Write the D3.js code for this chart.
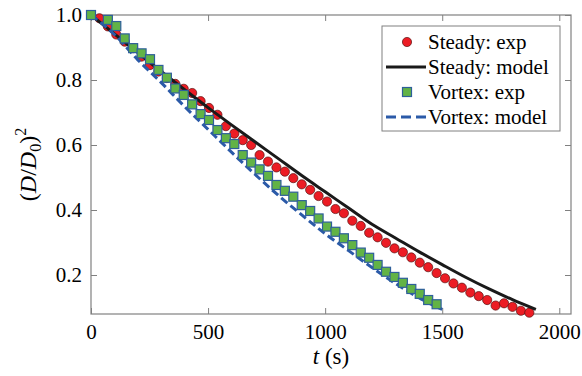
<!DOCTYPE html>
<html>
<head>
<meta charset="utf-8">
<script src="https://cdn.jsdelivr.net/npm/d3@7"></script>
<style>
  body { margin: 0; background: #fff; }
</style>
</head>
<body>
<svg id="chart" width="582" height="376" font-family="'Liberation Serif', 'Times New Roman', serif"></svg>
<script>
// steady droplet, experiment
const steadyExpT = [0, 36, 72, 108, 144, 180, 216, 252, 288, 324, 360, 396, 432, 468, 504, 540, 576, 612, 648, 684,
  720, 756, 792, 828, 864, 900, 936, 972, 1008, 1044, 1080, 1116, 1152, 1188, 1224, 1260, 1296, 1332, 1368, 1404,
  1440, 1476, 1512, 1548, 1584, 1620, 1656, 1692, 1728, 1764, 1800, 1836, 1872];
const steadyExpY = [1.0, 0.99, 0.965, 0.94, 0.918, 0.898, 0.872, 0.846, 0.826, 0.806, 0.788, 0.773, 0.760, 0.735,
  0.714, 0.693, 0.658, 0.635, 0.615, 0.600, 0.569, 0.549, 0.531, 0.518, 0.498, 0.479, 0.462, 0.443, 0.426, 0.403,
  0.390, 0.367, 0.351, 0.330, 0.316, 0.299, 0.282, 0.270, 0.254, 0.238, 0.224, 0.206, 0.190, 0.174, 0.161, 0.146,
  0.135, 0.123, 0.106, 0.113, 0.102, 0.090, 0.084];

// steady droplet, model
const steadyModelT = [0, 100, 200, 300, 400, 500, 600, 700, 800, 900, 1000, 1100, 1200, 1300, 1400, 1500, 1600, 1700, 1800, 1900];
const steadyModelY = [1.0, 0.942, 0.884, 0.826, 0.770, 0.715, 0.662, 0.610, 0.558, 0.506, 0.456, 0.406, 0.356,
  0.314, 0.272, 0.232, 0.193, 0.157, 0.124, 0.094];

// vortex droplet, experiment
const vortexExpT = [0, 72, 108, 144, 180, 216, 252, 288, 324, 360, 396, 432, 468, 504, 540, 576, 612, 648, 684, 720,
  756, 792, 828, 864, 900, 936, 972, 1008, 1044, 1080, 1116, 1152, 1188, 1224, 1260, 1296, 1332, 1368, 1404, 1440, 1476];
const vortexExpY = [1.0, 0.985, 0.966, 0.928, 0.898, 0.882, 0.864, 0.831, 0.807, 0.774, 0.754, 0.725, 0.695, 0.677,
  0.646, 0.621, 0.603, 0.569, 0.546, 0.525, 0.505, 0.477, 0.459, 0.441, 0.415, 0.397, 0.374, 0.349, 0.333, 0.313,
  0.292, 0.269, 0.253, 0.231, 0.210, 0.194, 0.176, 0.157, 0.142, 0.123, 0.110];

// vortex droplet, model
const vortexModelT = [0, 100, 200, 300, 400, 500, 600, 700, 800, 900, 1000, 1100, 1200, 1300, 1400, 1500];
const vortexModelY = [1.0, 0.940, 0.862, 0.792, 0.718, 0.648, 0.578, 0.510, 0.445, 0.385, 0.327, 0.275, 0.223,
  0.174, 0.130, 0.094];

const xTicks = [0, 500, 1000, 1500, 2000];
const yTicks = [0.2, 0.4, 0.6, 0.8, 1.0];
const legendLabels = ["Steady: exp", "Steady: model", "Vortex: exp", "Vortex: model"];

const serif = "Liberation Serif";
const svg = d3.select("#chart");
const margin = { top: 15, right: 11, bottom: 62, left: 91 };
const width = +svg.attr("width");
const height = +svg.attr("height");

const x = d3.scaleLinear().domain([0, 2050]).range([margin.left, width - margin.right]);
const y = d3.scaleLinear().domain([0.08, 1.0]).range([height - margin.bottom, margin.top]);

const zip = (ts, ys) => ts.map((t, i) => ({ t, v: ys[i] }));
const steadyExp = zip(steadyExpT, steadyExpY);
const steadyModel = zip(steadyModelT, steadyModelY);
const vortexExp = zip(vortexExpT, vortexExpY);
const vortexModel = zip(vortexModelT, vortexModelY);

const axisColor = "#808080";
const red = "#ec1c24";
const green = "#62b346";
const blue = "#2b5aa8";

// axes with inward ticks on all four sides
function styleAxis(g) {
  g.attr("font-family", serif);
  g.select(".domain").remove();
  g.selectAll(".tick line").attr("stroke", axisColor);
  g.selectAll(".tick text").attr("fill", "#000").attr("font-size", 21).attr("font-family", serif);
}

svg.append("g")
  .attr("transform", `translate(0,${height - margin.bottom})`)
  .call(d3.axisBottom(x).tickValues(xTicks).tickFormat(d3.format("d")).tickSizeInner(-6).tickPadding(10))
  .call(styleAxis);

svg.append("g")
  .attr("transform", `translate(0,${margin.top})`)
  .call(d3.axisTop(x).tickValues(xTicks).tickFormat("").tickSizeInner(-6))
  .call(styleAxis);

svg.append("g")
  .attr("transform", `translate(${margin.left},0)`)
  .call(d3.axisLeft(y).tickValues(yTicks).tickFormat(d3.format(".1f")).tickSizeInner(-6).tickPadding(9))
  .call(styleAxis);

svg.append("g")
  .attr("transform", `translate(${width - margin.right},0)`)
  .call(d3.axisRight(y).tickValues(yTicks).tickFormat("").tickSizeInner(-6))
  .call(styleAxis);

// plot frame
svg.append("rect")
  .attr("x", margin.left)
  .attr("y", margin.top)
  .attr("width", width - margin.left - margin.right)
  .attr("height", height - margin.top - margin.bottom)
  .attr("fill", "none")
  .attr("stroke", axisColor)
  .attr("stroke-width", 1.2);

const line = d3.line()
  .x(d => x(d.t))
  .y(d => y(d.v))
  .curve(d3.curveMonotoneX);

// steady exp circles
svg.append("g")
  .selectAll("circle")
  .data(steadyExp)
  .join("circle")
  .attr("cx", d => x(d.t))
  .attr("cy", d => y(d.v))
  .attr("r", 4.6)
  .attr("fill", red)
  .attr("stroke", "#5a1010")
  .attr("stroke-width", 0.7);

// steady model
svg.append("path")
  .datum(steadyModel)
  .attr("d", line)
  .attr("fill", "none")
  .attr("stroke", "#1a1a1a")
  .attr("stroke-width", 3);

// vortex model
svg.append("path")
  .datum(vortexModel)
  .attr("d", line)
  .attr("fill", "none")
  .attr("stroke", blue)
  .attr("stroke-width", 3)
  .attr("stroke-dasharray", "8,4");

// vortex exp squares
const sq = 9;
svg.append("g")
  .selectAll("rect")
  .data(vortexExp)
  .join("rect")
  .attr("x", d => x(d.t) - sq / 2)
  .attr("y", d => y(d.v) - sq / 2)
  .attr("width", sq)
  .attr("height", sq)
  .attr("fill", green)
  .attr("stroke", "#2e5f9a")
  .attr("stroke-width", 1.2);

// axis titles
svg.append("text")
  .attr("x", (margin.left + width - margin.right) / 2)
  .attr("y", 364)
  .attr("text-anchor", "middle")
  .attr("font-family", serif)
  .attr("font-size", 23)
  .html('<tspan font-style="italic">t</tspan> (s)');

svg.append("text")
  .attr("transform", `translate(36,${(margin.top + height - margin.bottom) / 2}) rotate(-90)`)
  .attr("text-anchor", "middle")
  .attr("font-family", serif)
  .attr("font-size", 24)
  .html('(<tspan font-style="italic">D</tspan>/<tspan font-style="italic">D</tspan><tspan font-size="16" dy="5">0</tspan><tspan dy="-5">)</tspan><tspan font-size="16" dy="-10">2</tspan>');

// legend
const lg = svg.append("g").attr("transform", "translate(382,26)");
lg.append("rect")
  .attr("width", 178)
  .attr("height", 105)
  .attr("fill", "#fff")
  .attr("stroke", axisColor)
  .attr("stroke-width", 1);

const rowY = i => 16 + i * 25;
lg.selectAll("text")
  .data(legendLabels)
  .join("text")
  .attr("x", 46)
  .attr("y", (d, i) => rowY(i) + 7)
  .attr("font-family", serif)
  .attr("font-size", 21)
  .text(d => d);

lg.append("circle").attr("cx", 25).attr("cy", rowY(0)).attr("r", 4.6)
  .attr("fill", red).attr("stroke", "#5a1010").attr("stroke-width", 0.7);
lg.append("line").attr("x1", 4).attr("x2", 44).attr("y1", rowY(1)).attr("y2", rowY(1))
  .attr("stroke", "#1a1a1a").attr("stroke-width", 3);
lg.append("rect").attr("x", 25 - sq / 2).attr("y", rowY(2) - sq / 2).attr("width", sq).attr("height", sq)
  .attr("fill", green).attr("stroke", "#2e5f9a").attr("stroke-width", 1.2);
lg.append("line").attr("x1", 4).attr("x2", 44).attr("y1", rowY(3)).attr("y2", rowY(3))
  .attr("stroke", blue).attr("stroke-width", 3).attr("stroke-dasharray", "10,5");
</script>
</body>
</html>
